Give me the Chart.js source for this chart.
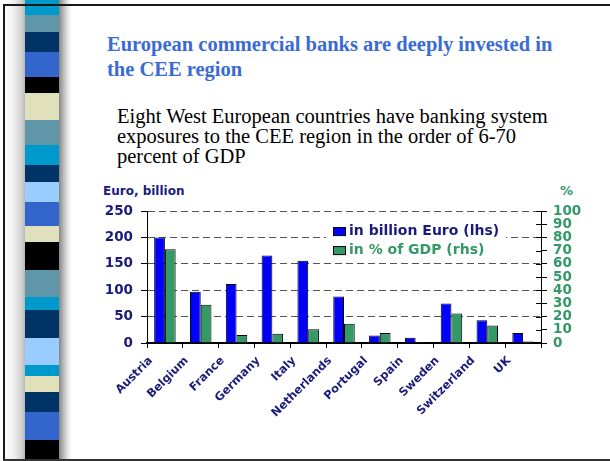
<!DOCTYPE html>
<html>
<head>
<meta charset="utf-8">
<script src="https://cdn.jsdelivr.net/npm/chart.js@4.4.1/dist/chart.umd.min.js"></script>
<style>
  html, body { margin: 0; padding: 0; background: #fff; }
  body { width: 610px; height: 461px; position: relative; overflow: hidden; }
  .ln { position: absolute; background: #1a1a1a; z-index: 5; }
  #shadeL { position: absolute; left: 5px; top: 0px; width: 21px; height: 461px;
            background: linear-gradient(to right, #ffffff, #eeeeee 45%, #d0d0d0 80%, #b0b0b0); }
  #shadeR { position: absolute; left: 58px; top: 0px; width: 14px; height: 461px;
            background: linear-gradient(to right, #7a7a7a, #bcbcbc 40%, #ececec 75%, #ffffff); }
  #stripe { position: absolute; left: 25px; top: 0px; width: 34px; height: 461px; }
  #title { position: absolute; left: 107px; top: 32px; width: 460px;
           font: bold 20.5px "Liberation Serif", "Times New Roman", serif; line-height: 25px; color: #3a6bd4; }
  #body { position: absolute; left: 117px; top: 106px; width: 445px;
          font: 20.5px "Liberation Serif", "Times New Roman", serif; line-height: 20px; color: #000; }
  #ytitle { position: absolute; left: 103px; top: 184px; font: bold 12px "DejaVu Sans", sans-serif; color: #1b1b7d; }
  #y1title { position: absolute; left: 560px; top: 183px; font: bold 13px "DejaVu Sans", sans-serif; color: #339966; }
  #wrap { position: absolute; left: 80px; top: 195px; width: 525px; height: 255px; }
</style>
</head>
<body>
<div id="shadeL"></div>
<div id="shadeR"></div>
<div id="stripe"></div>
<div class="ln" style="left:3px;top:4px;width:607px;height:2px;"></div>
<div class="ln" style="left:3px;top:4px;width:2px;height:457px;"></div>
<div class="ln" style="left:3px;top:459px;width:607px;height:2px;background:#333;"></div>
<div id="title">European commercial banks are deeply invested in the CEE region</div>
<div id="body">Eight West European countries have banking system exposures to the CEE region in the order of 6-70 percent of GDP</div>
<div id="ytitle">Euro, billion</div>
<div id="y1title">%</div>
<div id="wrap"><canvas id="c" width="525" height="255"></canvas></div>
<script>
const categories = ['Austria','Belgium','France','Germany','Italy','Netherlands','Portugal','Spain','Sweden','Switzerland','UK'];
const euroBillion = [200, 97, 112, 166, 156, 88, 14, 10, 75, 43, 19];
const pctOfGdp = [71, 29, 6, 7, 10.5, 14.6, 7.6, 0.7, 22.4, 13.2, 1.2];
const seriesLabels = ['in billion Euro (lhs)', 'in % of GDP (rhs)'];
const leftTicks = [0, 50, 100, 150, 200, 250];
const rightTicks = [0, 10, 20, 30, 40, 50, 60, 70, 80, 90, 100];

// decorative stripe
const stripeColors = [
  [15,'#0099cc'],[17,'#5f97a9'],[20,'#003366'],[25,'#3366cc'],[16,'#000000'],[27,'#e0e0bc'],
  [25,'#5f97a9'],[20,'#0099cc'],[17,'#003366'],[20,'#99ccff'],[24,'#3366cc'],[16,'#e0e0bc'],
  [28,'#000000'],[27,'#5f97a9'],[13,'#0099cc'],[28,'#003366'],[27,'#99ccff'],[11,'#0099cc'],
  [16,'#e0e0bc'],[20,'#003366'],[28,'#3366cc'],[30,'#000000']
];
(function(){
  const s = document.getElementById('stripe');
  let y = 0;
  stripeColors.forEach(([h,c]) => {
    const d = document.createElement('div');
    d.style.cssText = `position:absolute;left:0;top:${y}px;width:34px;height:${h}px;background:${c}`;
    s.appendChild(d); y += h;
  });
})();

const NAVY = '#1b1b7d', GREEN = '#339966';

const legendPlugin = {
  id: 'inLegend',
  afterDraw(chart) {
    const {ctx, chartArea} = chart;
    const x0 = chartArea.left + 179, y0 = chartArea.top + 9;
    ctx.save();
    ctx.fillStyle = '#fff';
    ctx.fillRect(x0, y0, 180, 38);
    const colors = [NAVY, GREEN];
    chart.data.datasets.forEach((ds, i) => {
      const sy = y0 + 7 + i * 19;
      ctx.fillStyle = ds.backgroundColor;
      ctx.fillRect(x0 + 7, sy, 12, 8);
      ctx.strokeStyle = '#000'; ctx.lineWidth = 1;
      ctx.strokeRect(x0 + 7.5, sy + 0.5, 12, 8);
      ctx.fillStyle = colors[i];
      ctx.font = 'bold 14px "DejaVu Sans", sans-serif';
      ctx.textBaseline = 'middle';
      ctx.fillText(ds.label, x0 + 23, sy + 4.5);
    });
    // inner ticks on right axis
    const y1 = chart.scales.y1;
    ctx.strokeStyle = '#000'; ctx.lineWidth = 1;
    y1.ticks.forEach(t => {
      const py = Math.round(y1.getPixelForValue(t.value)) + 0.5;
      ctx.beginPath(); ctx.moveTo(chartArea.right - 5, py); ctx.lineTo(chartArea.right, py); ctx.stroke();
    });
    ctx.restore();
  }
};

new Chart(document.getElementById('c'), {
  type: 'bar',
  data: {
    labels: categories,
    datasets: [
      { label: seriesLabels[0], data: euroBillion, yAxisID: 'y', backgroundColor: '#0000ff', borderColor: '#000', borderWidth: 1 },
      { label: seriesLabels[1], data: pctOfGdp, yAxisID: 'y1', backgroundColor: '#339966', borderColor: '#000', borderWidth: 1 }
    ]
  },
  options: {
    responsive: false,
    animation: false,
    devicePixelRatio: 1,
    layout: { padding: { top: 12, left: 0, right: 0, bottom: 0 } },
    datasets: { bar: { categoryPercentage: 0.6, barPercentage: 1.0 } },
    plugins: { legend: { display: false }, tooltip: { enabled: false } },
    scales: {
      x: {
        grid: { offset: true, drawOnChartArea: false, tickLength: 5, color: '#000', tickColor: '#000' },
        border: { display: true, color: '#000', width: 2 },
        ticks: { maxRotation: 45, minRotation: 45, autoSkip: false, color: NAVY, padding: 6,
                 labelOffset: c => -(5 + 1.0 * String(categories[c.index]).length),
                 font: { family: 'DejaVu Sans', weight: 'bold', size: 11.5 } },
        afterFit(s) { s.height = 107; }
      },
      y: {
        position: 'left', min: 0, max: 250,
        afterBuildTicks(s) { s.ticks = leftTicks.map(v => ({ value: v })); },
        grid: { color: c => (c.tick && c.tick.value === 0) ? 'rgba(0,0,0,0)' : '#555', lineWidth: 1,
                tickLength: 6, tickColor: '#000' },
        border: { display: true, color: '#000', width: 1, dash: c => c.tick ? [7, 4] : [] },
        ticks: { autoSkip: false, color: NAVY, padding: 8, font: { family: 'DejaVu Sans', weight: 'bold', size: 13.5 } },
        afterFit(s) { s.width = 67; }
      },
      y1: {
        position: 'right', min: 0, max: 100,
        afterBuildTicks(s) { s.ticks = rightTicks.map(v => ({ value: v })); },
        grid: { drawOnChartArea: false, tickLength: 6, tickColor: '#000', color: '#000' },
        border: { display: true, color: '#000', width: 1 },
        ticks: { autoSkip: false, color: GREEN, padding: 6, font: { family: 'DejaVu Sans', weight: 'bold', size: 13.5 } },
        afterFit(s) { s.width = 64; }
      }
    }
  },
  plugins: [legendPlugin]
});
</script>
</body>
</html>
